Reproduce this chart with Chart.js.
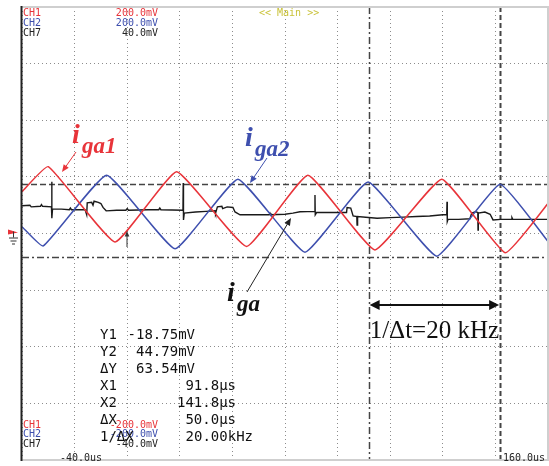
<!DOCTYPE html>
<html>
<head>
<meta charset="utf-8">
<script src="https://cdn.jsdelivr.net/npm/chart.js@4/dist/chart.umd.min.js"></script>
<style>
  html, body { margin: 0; padding: 0; background: #fff; }
  #wrap { width: 549px; height: 466px; }
</style>
</head>
<body>
<div id="wrap"><canvas id="scope" width="549" height="466"></canvas></div>
<script>
// time in us, amplitude in screen divisions
const timeIga1 = [-40, -30.0, -4.6, 18.8, 45.4, 68.7, 94.2, 119.6, 143.7, 160];
const iga1 = [0.74, 1.18, -0.15, 1.09, -0.23, 1.03, -0.29, 0.96, -0.34, 0.53];

const timeIga2 = [-40, -31.9, -7.8, 18.2, 42.1, 67.6, 91.6, 117.7, 141.7, 160];
const iga2 = [0.12, -0.22, 1.03, -0.27, 0.96, -0.33, 0.91, -0.40, 0.87, -0.14];

const timeIga = [-40, -37, -36.5, -33, -32.6, -32.2, -28.8, -28.7, -28.6, -28.4, -25, -22, -21.6, -21.2, -16,
  -15.4, -15.2, -13.5, -13, -12.6, -11, -10, -9.2, -8, -4, -0.5, 0, 0.5, 8, 12, 12.4, 12.8,
  21.2, 21.3, 21.4, 21.7, 26, 30, 33.4, 33.6, 34.3, 36, 36.3, 38, 40.2, 41, 42.9, 50, 54, 54.3, 54.6,
  60, 63, 65.7, 71.3, 71.4, 71.5, 72, 78, 83.4, 83.6, 85, 85.9, 87.3, 87.4, 87.6, 95, 100, 105, 110,
  115, 120, 121.5, 121.6, 121.7, 122, 126, 130.3, 131, 132.5, 133.3, 133.4, 133.5, 136, 138, 139.1,
  142, 146, 146.3, 146.6, 150, 155, 160];
const iga = [0.49, 0.50, 0.47, 0.48, 0.51, 0.48, 0.47, 0.915, 0.27, 0.43, 0.43, 0.42, 0.45, 0.42, 0.42,
  0.33, 0.54, 0.55, 0.50, 0.57, 0.55, 0.53, 0.46, 0.40, 0.41, 0.41, 0.44, 0.41, 0.42, 0.42, 0.45, 0.42,
  0.41, 0.89, 0.24, 0.36, 0.38, 0.39, 0.40, 0.36, 0.47, 0.48, 0.44, 0.47, 0.46, 0.38, 0.33, 0.33, 0.33, 0.36, 0.33,
  0.34, 0.36, 0.385, 0.39, 0.68, 0.33, 0.37, 0.37, 0.37, 0.46, 0.45, 0.31, 0.30, 0.15, 0.30, 0.27, 0.28, 0.29, 0.30,
  0.31, 0.33, 0.33, 0.56, 0.21, 0.25, 0.25, 0.26, 0.36, 0.385, 0.37, 0.06, 0.36, 0.38, 0.34, 0.24,
  0.25, 0.25, 0.28, 0.25, 0.25, 0.25, 0.25];

// cursors
const cursorX = [91.8, 141.8];
const cursorY = [0.875, -0.41];

const readout = [
  ['Y1', '-18.75mV', 195],
  ['Y2', '44.79mV', 195],
  ['\u0394Y', '63.54mV', 195],
  ['X1', '91.8\u00b5s', 236],
  ['X2', '141.8\u00b5s', 236],
  ['\u0394X', '50.0\u00b5s', 236],
  ['1/\u0394X', '20.00kHz', 253]
];

const toXY = (t, v) => t.map((x, i) => ({ x: x, y: v[i] }));

const RED = '#e8343a';
const BLUE = '#3e4fae';
const MONO = '"DejaVu Sans Mono", monospace';
const SERIF = '"Liberation Serif", "DejaVu Serif", serif';

function arrow(ctx, x1, y1, x2, y2, color, size, width) {
  const a = Math.atan2(y2 - y1, x2 - x1);
  ctx.strokeStyle = color;
  ctx.fillStyle = color;
  ctx.lineWidth = width;
  ctx.setLineDash([]);
  ctx.beginPath();
  ctx.moveTo(x1, y1);
  ctx.lineTo(x2 - Math.cos(a) * size * 0.7, y2 - Math.sin(a) * size * 0.7);
  ctx.stroke();
  ctx.beginPath();
  ctx.moveTo(x2, y2);
  ctx.lineTo(x2 - size * Math.cos(a - 0.4), y2 - size * Math.sin(a - 0.4));
  ctx.lineTo(x2 - size * Math.cos(a + 0.4), y2 - size * Math.sin(a + 0.4));
  ctx.closePath();
  ctx.fill();
}

const scopeDecor = {
  id: 'scopeDecor',
  beforeDatasetsDraw(chart) {
    const { ctx, chartArea: ca, scales: { x, y } } = chart;
    ctx.save();
    // cursor lines
    ctx.strokeStyle = '#444';
    const dashes = [[7, 3, 2, 3], [5, 3]];
    cursorX.forEach((t, i) => {
      const px = Math.round(x.getPixelForValue(t)) + 0.5;
      ctx.setLineDash(dashes[i]);
      ctx.lineWidth = i === 1 ? 2 : 1.5;
      ctx.beginPath(); ctx.moveTo(px, ca.top); ctx.lineTo(px, ca.bottom); ctx.stroke();
    });
    ctx.lineWidth = 1.5;
    [[6, 3], [7, 3, 2, 3]].forEach((d, i) => {
      const py = Math.round(y.getPixelForValue(cursorY[i])) + 0.5;
      ctx.setLineDash(d);
      ctx.beginPath(); ctx.moveTo(ca.left, py); ctx.lineTo(ca.right, py); ctx.stroke();
    });
    ctx.restore();
  },
  afterDraw(chart) {
    const { ctx, chartArea: ca, scales: { x, y } } = chart;
    ctx.save();
    ctx.setLineDash([]);
    // frame
    ctx.strokeStyle = '#cfcfcf';
    ctx.lineWidth = 2;
    ctx.beginPath();
    ctx.moveTo(ca.left, ca.top); ctx.lineTo(ca.right, ca.top);
    ctx.lineTo(ca.right, ca.bottom); ctx.lineTo(ca.left, ca.bottom);
    ctx.stroke();
    ctx.strokeStyle = '#222';
    ctx.beginPath(); ctx.moveTo(ca.left - 0.5, ca.top - 1); ctx.lineTo(ca.left - 0.5, ca.bottom + 1); ctx.stroke();

    // ground marker
    const gy = y.getPixelForValue(0);
    ctx.fillStyle = RED;
    ctx.beginPath(); ctx.moveTo(8, gy - 4); ctx.lineTo(18, gy - 1); ctx.lineTo(8, gy + 1); ctx.closePath(); ctx.fill();
    ctx.strokeStyle = '#333'; ctx.lineWidth = 1;
    ctx.beginPath();
    ctx.moveTo(13.5, gy - 2); ctx.lineTo(13.5, gy + 4);
    ctx.moveTo(9, gy + 4.5); ctx.lineTo(18, gy + 4.5);
    ctx.moveTo(10.5, gy + 7.5); ctx.lineTo(16.5, gy + 7.5);
    ctx.moveTo(12, gy + 10.5); ctx.lineTo(15, gy + 10.5);
    ctx.stroke();

    // trigger mark
    arrow(ctx, 127, 247, 127, 231, '#333', 6, 1);

    // channel labels top
    ctx.font = '10px ' + MONO;
    ctx.textBaseline = 'middle';
    const chans = [['CH1', '200.0mV', RED], ['CH2', '200.0mV', BLUE], ['CH7', '40.0mV', '#222']];
    chans.forEach((c, i) => {
      ctx.fillStyle = c[2];
      ctx.textAlign = 'left'; ctx.fillText(c[0], 23, 13 + i * 10);
      ctx.textAlign = 'right'; ctx.fillText(c[1], 158, 13 + i * 10);
    });
    ctx.fillStyle = '#c9c238';
    ctx.textAlign = 'left';
    ctx.fillText('<< Main >>', 259, 13);

    // channel labels bottom
    const chansB = [['CH1', '-200.0mV', RED], ['CH2', '-200.0mV', BLUE], ['CH7', '-40.0mV', '#222']];
    chansB.forEach((c, i) => {
      ctx.fillStyle = c[2];
      ctx.textAlign = 'left'; ctx.fillText(c[0], 23, 425 + i * 9.5);
      ctx.textAlign = 'right'; ctx.fillText(c[1], 158, 425 + i * 9.5);
    });
    ctx.fillStyle = '#222';
    ctx.textAlign = 'left';
    ctx.fillText('-40.0us', 60, 458);
    ctx.fillText('160.0us', 503, 458);

    // cursor readout
    ctx.font = '14px ' + MONO;
    ctx.fillStyle = '#111';
    readout.forEach((r, i) => {
      const ry = 335 + i * 17;
      ctx.textAlign = 'left'; ctx.fillText(r[0], 100, ry);
      ctx.textAlign = 'right'; ctx.fillText(r[1], r[2], ry);
    });

    // trace labels
    ctx.textBaseline = 'alphabetic';
    ctx.textAlign = 'left';
    const label = (main, sub, xx, yy, col) => {
      ctx.fillStyle = col;
      ctx.font = 'italic bold 28px ' + SERIF;
      ctx.fillText(main, xx, yy);
      ctx.font = 'italic bold 23px ' + SERIF;
      ctx.fillText(sub, xx + 10, yy + 10);
    };
    label('i', 'ga1', 72, 143, RED);
    label('i', 'ga2', 245, 146, BLUE);
    label('i', 'ga', 227, 301, '#111');

    arrow(ctx, 76, 152, 62, 172, RED, 8, 1);
    arrow(ctx, 267, 158, 250, 183, BLUE, 8, 1);
    arrow(ctx, 247, 292, 291, 218, '#222', 8, 1);

    // period arrow
    const xa = x.getPixelForValue(cursorX[0]);
    const xb = x.getPixelForValue(cursorX[1]);
    ctx.fillStyle = '#111';
    ctx.strokeStyle = '#111';
    ctx.lineWidth = 2;
    ctx.beginPath(); ctx.moveTo(xa + 6, 305); ctx.lineTo(xb - 6, 305); ctx.stroke();
    ctx.beginPath(); ctx.moveTo(xa + 1, 305); ctx.lineTo(xa + 11, 300); ctx.lineTo(xa + 11, 310); ctx.closePath(); ctx.fill();
    ctx.beginPath(); ctx.moveTo(xb - 1, 305); ctx.lineTo(xb - 11, 300); ctx.lineTo(xb - 11, 310); ctx.closePath(); ctx.fill();
    ctx.font = '25px ' + SERIF;
    ctx.fillText('1/\u0394t=20 kHz', xa + 1, 338);
    ctx.restore();
  }
};

new Chart(document.getElementById('scope'), {
  type: 'line',
  data: {
    datasets: [
      { label: 'iga1', data: toXY(timeIga1, iga1), borderColor: RED, borderWidth: 1.5, tension: 0.12 },
      { label: 'iga2', data: toXY(timeIga2, iga2), borderColor: BLUE, borderWidth: 1.5, tension: 0.12 },
      { label: 'iga', data: toXY(timeIga, iga), borderColor: '#1a1a1a', borderWidth: 1.4, tension: 0 }
    ]
  },
  options: {
    responsive: false,
    animation: false,
    layout: { padding: { left: 22, top: 7, right: 1, bottom: 6 } },
    elements: { point: { radius: 0 } },
    plugins: { legend: { display: false }, tooltip: { enabled: false } },
    scales: {
      x: {
        type: 'linear', min: -40, max: 160,
        ticks: { display: false, stepSize: 20 },
        grid: { color: '#8c8c8c', lineWidth: 1, drawTicks: false },
        border: { display: false, dash: [1, 3] }
      },
      y: {
        type: 'linear', min: -4, max: 4,
        ticks: { display: false, stepSize: 1 },
        grid: { color: '#8c8c8c', lineWidth: 1, drawTicks: false },
        border: { display: false, dash: [1, 3] }
      }
    }
  },
  plugins: [scopeDecor]
});
</script>
</body>
</html>
